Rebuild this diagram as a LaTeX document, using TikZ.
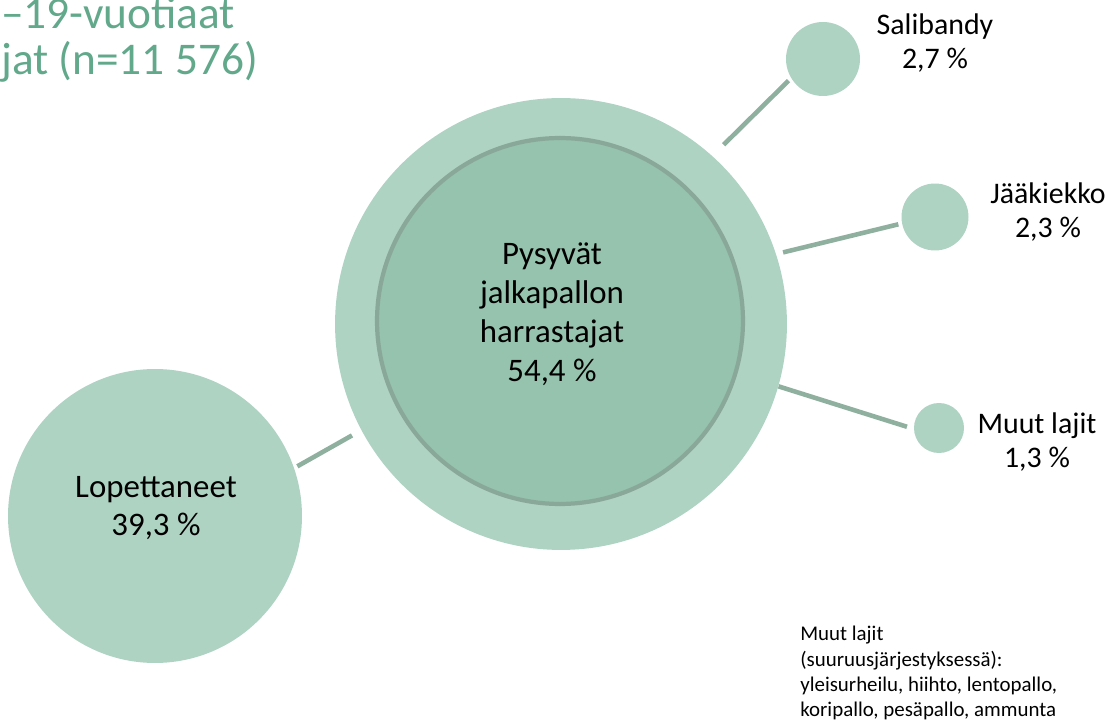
\documentclass[tikz,border=0pt]{standalone}
\usepackage{fontspec}
\setmainfont{Carlito}
\usetikzlibrary{positioning}

\definecolor{ringgreen}{RGB}{174,211,194}
\definecolor{coregreen}{RGB}{149,195,173}
\definecolor{coreedge}{RGB}{138,168,153}
\definecolor{linkgreen}{RGB}{143,175,159}
\definecolor{titlegreen}{RGB}{98,168,139}

\begin{document}
\begin{tikzpicture}[x=0.02cm,y=-0.02cm,
          ring/.style={circle,fill=ringgreen,inner sep=0pt},
          core/.style={circle,fill=coregreen,draw=coreedge,line width=2.4pt,inner sep=0pt},
          link/.style={draw=linkgreen,line width=2.6pt},
          bigtxt/.style={font=\fontsize{18.7}{22.1}\selectfont,align=center},
          smalltxt/.style={font=\fontsize{17}{19.3}\selectfont,align=center},
          notetxt/.style={font=\fontsize{11.9}{14.4}\selectfont,align=left,inner sep=0pt}]
        \useasboundingbox (0,0) rectangle (1113,722);
        \clip (0,0) rectangle (1113,722);
        % title, cut at the left edge
        \node[font=\fontsize{25.8}{26.6}\selectfont,text=titlegreen,align=left,
              inner sep=0pt,anchor=south west] (title) at (1,83)
              {–19-vuotiaat\\jat (n=11 576)};
        % circles
        \node[ring,minimum size=9.04cm] (outer) at (561,324) {};
        \node[core,minimum size=7.32cm] (inner) at (560,321) {};
        \node[ring,minimum size=5.88cm] (lop)  at (155,516) {};
        \node[ring,minimum size=1.48cm] (sali) at (823,59)  {};
        \node[ring,minimum size=1.34cm] (jaa)  at (935,217) {};
        \node[ring,minimum size=1.00cm] (muut) at (939,428) {};
        % connectors
        \draw[link,shorten <=9pt,shorten >=2pt] (outer.48) -- (sali.211);
        \draw[link,shorten <=4pt,shorten >=2pt] (outer.18) -- (jaa.191);
        \draw[link,shorten >=4pt] (outer.-16) -- (muut.182);
        \draw[link,shorten <=2pt,shorten >=6pt] (lop.19) -- (outer.208);
        % labels
        \node[bigtxt] (pysy) at (552,314) {Pysyvät\\jalkapallon\\harrastajat\\54,4 \%};
        \node[bigtxt] (loplbl) at (156,508) {Lopettaneet\\39,3 \%};
        \node[smalltxt] (salilbl) at (935,43)  {Salibandy\\2,7 \%};
        \node[smalltxt] (jaalbl)  at (1048,212) {Jääkiekko\\2,3 \%};
        \node[smalltxt] (muutlbl) at (1037,442) {Muut lajit\\1,3 \%};
        \node[notetxt,anchor=north west] (note) at (800,626)
              {Muut lajit\\(suuruusjärjestyksessä):\\yleisurheilu, hiihto, lentopallo,\\koripallo, pesäpallo, ammunta};
      \end{tikzpicture}
\end{document}
